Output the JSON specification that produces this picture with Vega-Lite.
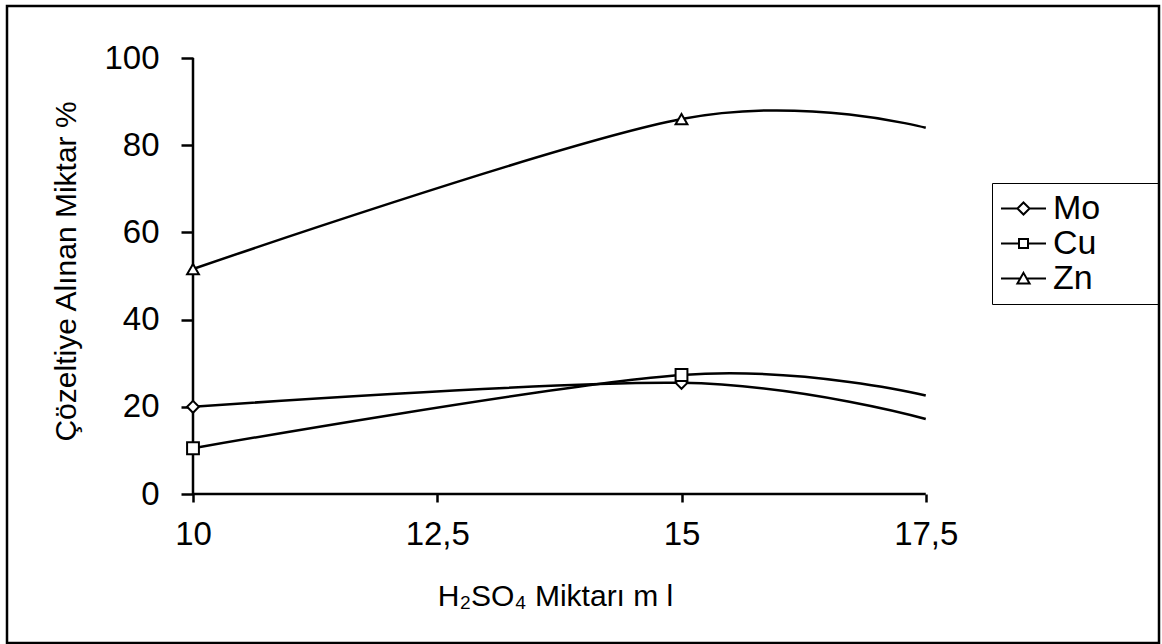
{
  "$schema": "https://vega.github.io/schema/vega-lite/v6.json",
  "width": 1152,
  "height": 637,
  "autosize": {"type": "none"},
  "padding": {"left": 7, "top": 6, "right": 3, "bottom": 1},
  "background": "white",
  "config": {
    "view": {"stroke": "black", "strokeWidth": 2.5},
    "font": "Liberation Sans"
  },
  "data": {
    "values": [
      {"x": 10, "y": 20, "metal": "Mo"},
      {"x": 15, "y": 25.5, "metal": "Mo"},
      {"x": 17.5, "y": 17.2, "metal": "Mo"},
      {"x": 10, "y": 10.5, "metal": "Cu"},
      {"x": 15, "y": 27.3, "metal": "Cu"},
      {"x": 17.5, "y": 22.6, "metal": "Cu"},
      {"x": 10, "y": 51.6, "metal": "Zn"},
      {"x": 15, "y": 86, "metal": "Zn"},
      {"x": 17.5, "y": 84, "metal": "Zn"}
    ]
  },
  "resolve": {"scale": {"shape": "independent"}, "legend": {"shape": "independent"}},
  "layer": [
    {
      "data": {"values": [{}]},
      "mark": {"type": "rule", "color": "black", "strokeWidth": 2.5},
      "encoding": {
        "x": {"datum": 10, "type": "quantitative"},
        "y": {"datum": 0, "type": "quantitative"},
        "y2": {"datum": 100}
      }
    },
    {
      "data": {"values": [{}]},
      "mark": {"type": "rule", "color": "black", "strokeWidth": 2.5},
      "encoding": {
        "x": {"datum": 10, "type": "quantitative"},
        "x2": {"datum": 17.5},
        "y": {"datum": 0, "type": "quantitative"}
      }
    },
    {
      "mark": {"type": "line", "interpolate": "cardinal", "color": "black", "strokeWidth": 2.5},
      "encoding": {
        "x": {
          "field": "x", "type": "quantitative",
          "scale": {"domain": [8.0962, 19.8874], "nice": false, "zero": false},
          "axis": {
            "values": [10, 12.5, 15, 17.5],
            "domain": false, "grid": false,
            "offset": -149,
            "tickSize": 8, "tickWidth": 2.5, "tickColor": "black",
            "labelFontSize": 33, "labelColor": "black", "labelPadding": 16,
            "labelOverlap": false, "labelFlush": false, "labelBound": false,
            "labelExpr": "replace(format(datum.value, '~g'), '.', ',')",
            "title": "H₂SO₄ Miktarı m l",
            "titleFontSize": 30, "titleFontWeight": "normal", "titleColor": "black",
            "titleX": 548, "titleY": 111, "titleBaseline": "alphabetic"
          }
        },
        "y": {
          "field": "y", "type": "quantitative",
          "scale": {"domain": [-34.17, 111.93], "nice": false, "zero": false},
          "axis": {
            "values": [0, 20, 40, 60, 80, 100],
            "domain": false, "grid": false,
            "offset": -186,
            "tickSize": 12, "tickWidth": 2.5, "tickColor": "black",
            "labelFontSize": 33, "labelColor": "black", "labelPadding": 22,
            "labelOverlap": false, "labelBound": false,
            "title": "Çözeltiye Alınan Miktar %",
            "titleFontSize": 30, "titleFontWeight": "normal", "titleColor": "black",
            "titleX": -118, "titleY": 265, "titleBaseline": "alphabetic"
          }
        },
        "detail": {"field": "metal"}
      }
    },
    {
      "transform": [{"filter": "datum.x <= 15"}],
      "mark": {"type": "point", "filled": true, "fill": "white", "stroke": "black", "strokeWidth": 2, "size": 140, "opacity": 1},
      "encoding": {
        "x": {"field": "x", "type": "quantitative"},
        "y": {"field": "y", "type": "quantitative"},
        "shape": {
          "field": "metal", "type": "nominal",
          "scale": {"domain": ["Mo", "Cu", "Zn"], "range": ["diamond", "square", "triangle-up"]},
          "legend": null
        }
      }
    },
    {
      "transform": [{"filter": "datum.x < 0"}],
      "mark": {"type": "point", "filled": false, "color": "black", "strokeWidth": 2, "opacity": 1},
      "encoding": {
        "x": {"field": "x", "type": "quantitative"},
        "y": {"field": "y", "type": "quantitative"},
        "shape": {
          "field": "metal", "type": "nominal",
          "scale": {
            "domain": ["Mo", "Cu", "Zn"],
            "range": [
              "M-1,0H-0.27M0.27,0H1M0,-0.27L0.27,0L0,0.27L-0.27,0Z",
              "M-1,0H-0.2M0.2,0H1M-0.2,-0.2H0.2V0.2H-0.2Z",
              "M-1,0H-0.15M0.15,0H1M0,-0.25L0.27,0.22L-0.27,0.22Z"
            ]
          },
          "legend": {
            "orient": "none", "legendX": 985, "legendY": 177,
            "title": null,
            "symbolSize": 2025, "symbolStrokeWidth": 2, "symbolStrokeColor": "black",
            "labelFontSize": 34, "labelColor": "black", "labelOffset": 6,
            "labelExpr": "datum.label + '\u2800\u2800'",
            "padding": 8, "rowPadding": 0, "clipHeight": 35,
            "strokeColor": "black"
          }
        }
      }
    }
  ]
}
